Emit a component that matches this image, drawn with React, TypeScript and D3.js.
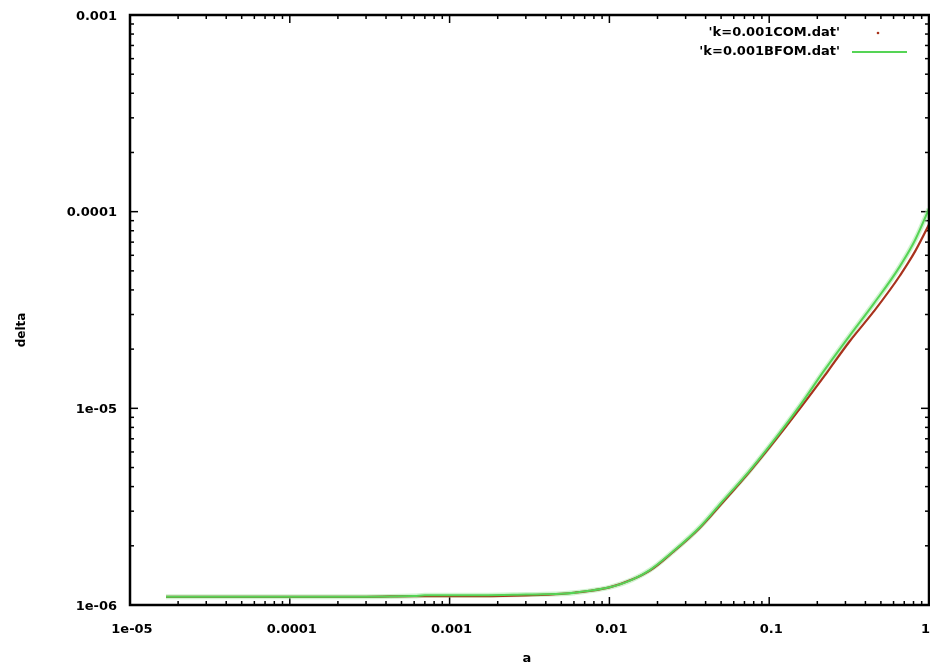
import React from "react";
import * as d3 from "d3";

// Growth of the density contrast delta with scale factor a, k = 0.001
const comA = [1.68e-5, 5e-5, 1.2e-4, 3e-4, 6e-4, 9e-4, 1.6e-3, 3e-3, 5e-3, 7.5e-3, 0.01, 0.014, 0.018, 0.025, 0.037, 0.05, 0.076, 0.1, 0.156, 0.22, 0.32, 0.45, 0.66, 0.82, 1];
const comDelta = [1.1e-6, 1.1e-6, 1.1e-6, 1.1e-6, 1.11e-6, 1.11e-6, 1.11e-6, 1.12e-6, 1.14e-6, 1.18e-6, 1.23e-6, 1.35e-6, 1.5e-6, 1.86e-6, 2.48e-6, 3.25e-6, 4.8e-6, 6.3e-6, 1.0e-5, 1.45e-5, 2.2e-5, 3.1e-5, 4.75e-5, 6.3e-5, 8.6e-5];

const bfomA = [1.68e-5, 5e-5, 1.2e-4, 3e-4, 6e-4, 7e-4, 9e-4, 1.6e-3, 3e-3, 5e-3, 7.5e-3, 0.01, 0.014, 0.018, 0.025, 0.037, 0.05, 0.076, 0.1, 0.156, 0.22, 0.32, 0.45, 0.66, 0.82, 1];
const bfomDelta = [1.1e-6, 1.1e-6, 1.1e-6, 1.1e-6, 1.11e-6, 1.12e-6, 1.12e-6, 1.12e-6, 1.13e-6, 1.14e-6, 1.18e-6, 1.23e-6, 1.35e-6, 1.51e-6, 1.87e-6, 2.5e-6, 3.3e-6, 4.85e-6, 6.4e-6, 1.035e-5, 1.55e-5, 2.35e-5, 3.4e-5, 5.3e-5, 7.2e-5, 1.035e-4];

const xTickValues = [1e-5, 1e-4, 1e-3, 1e-2, 1e-1, 1];
const xTickLabels = ["1e-05", "0.0001", "0.001", "0.01", "0.1", "1"];
const yTickValues = [1e-6, 1e-5, 1e-4, 1e-3];
const yTickLabels = ["1e-06", "1e-05", "0.0001", "0.001"];

const seriesNames = ["'k=0.001COM.dat'", "'k=0.001BFOM.dat'"];
const xTitle = "a";
const yTitle = "delta";

const W = 930;
const H = 667;
const M = { left: 130, right: 929, top: 15, bottom: 605 };
const FONT = "'DejaVu Sans', sans-serif";
const RED = "#a8321e";
const GREEN = "#55d455";

export default function App() {
  const x = d3.scaleLog().domain([1e-5, 1]).range([M.left, M.right]);
  const y = d3.scaleLog().domain([1e-6, 1e-3]).range([M.bottom, M.top]);

  const line = d3
    .line<[number, number]>()
    .x((d) => x(d[0]))
    .y((d) => y(d[1]))
    .curve(d3.curveMonotoneX);

  const comPts: [number, number][] = comA.map((a, i) => [a, comDelta[i]]);
  const bfomPts: [number, number][] = bfomA.map((a, i) => [a, bfomDelta[i]]);

  // minor ticks at 2..9 within every decade
  const minorX: number[] = [];
  for (let e = -5; e < 0; e++) for (let m = 2; m <= 9; m++) minorX.push(m * Math.pow(10, e));
  const minorY: number[] = [];
  for (let e = -6; e < -3; e++) for (let m = 2; m <= 9; m++) minorY.push(m * Math.pow(10, e));

  const major = 8;
  const minor = 4;

  const labelStyle = {
    fontFamily: FONT,
    fontWeight: "bold" as const,
    fontSize: 13,
    fill: "#000",
  };

  return (
    <svg
      width={W}
      height={H}
      style={{ position: "absolute", left: 0, top: 0, background: "#fff" }}
    >
      <defs>
        <filter id="soft" x="-5%" y="-5%" width="110%" height="110%">
          <feGaussianBlur stdDeviation="0.6" />
        </filter>
        <clipPath id="plot">
          <rect x={M.left} y={M.top} width={M.right - M.left} height={M.bottom - M.top} />
        </clipPath>
      </defs>

      <g filter="url(#soft)">
        {/* ticks on all four sides */}
        {xTickValues.map((v) => (
          <g key={"xt" + v}>
            <line x1={x(v)} x2={x(v)} y1={M.bottom} y2={M.bottom - major} stroke="#000" strokeWidth={1.5} />
            <line x1={x(v)} x2={x(v)} y1={M.top} y2={M.top + major} stroke="#000" strokeWidth={1.5} />
          </g>
        ))}
        {minorX.map((v) => (
          <g key={"xm" + v}>
            <line x1={x(v)} x2={x(v)} y1={M.bottom} y2={M.bottom - minor} stroke="#000" strokeWidth={1.5} />
            <line x1={x(v)} x2={x(v)} y1={M.top} y2={M.top + minor} stroke="#000" strokeWidth={1.5} />
          </g>
        ))}
        {yTickValues.map((v) => (
          <g key={"yt" + v}>
            <line x1={M.left} x2={M.left + major} y1={y(v)} y2={y(v)} stroke="#000" strokeWidth={1.5} />
            <line x1={M.right} x2={M.right - major} y1={y(v)} y2={y(v)} stroke="#000" strokeWidth={1.5} />
          </g>
        ))}
        {minorY.map((v) => (
          <g key={"ym" + v}>
            <line x1={M.left} x2={M.left + minor} y1={y(v)} y2={y(v)} stroke="#000" strokeWidth={1.5} />
            <line x1={M.right} x2={M.right - minor} y1={y(v)} y2={y(v)} stroke="#000" strokeWidth={1.5} />
          </g>
        ))}

        {/* curves */}
        <g clipPath="url(#plot)">
          <path d={line(bfomPts) || ""} fill="none" stroke="#a8eaa8" strokeWidth={5} opacity={0.55} />
          <path d={line(comPts) || ""} fill="none" stroke={RED} strokeWidth={2.2} />
          <path d={line(bfomPts) || ""} fill="none" stroke={GREEN} strokeWidth={2} />
        </g>

        {/* frame */}
        <rect
          x={M.left}
          y={M.top}
          width={M.right - M.left}
          height={M.bottom - M.top}
          fill="none"
          stroke="#000"
          strokeWidth={2.5}
        />

        {/* tick labels */}
        {yTickValues.map((v, i) => (
          <text key={"yl" + v} x={117} y={y(v)} dy="0.35em" textAnchor="end" {...labelStyle}>
            {yTickLabels[i]}
          </text>
        ))}
        {xTickValues.map((v, i) => {
          const last = i === xTickValues.length - 1;
          return (
            <text
              key={"xl" + v}
              x={last ? W : x(v) + 2}
              y={628}
              dy="0.35em"
              textAnchor={last ? "end" : "middle"}
              {...labelStyle}
            >
              {xTickLabels[i]}
            </text>
          );
        })}

        {/* axis titles */}
        <text x={527} y={657} dy="0.35em" textAnchor="middle" {...labelStyle}>
          {xTitle}
        </text>
        <text
          transform="translate(21,330) rotate(-90)"
          dy="0.35em"
          textAnchor="middle"
          {...labelStyle}
          fontSize={12}
        >
          {yTitle}
        </text>

        {/* key */}
        <text x={840} y={31} dy="0.35em" textAnchor="end" {...labelStyle}>
          {seriesNames[0]}
        </text>
        <circle cx={878} cy={33} r={1.3} fill={RED} />
        <text x={840} y={50} dy="0.35em" textAnchor="end" {...labelStyle}>
          {seriesNames[1]}
        </text>
        <line x1={852} x2={907} y1={52} y2={52} stroke={GREEN} strokeWidth={2} />
      </g>
    </svg>
  );
}
